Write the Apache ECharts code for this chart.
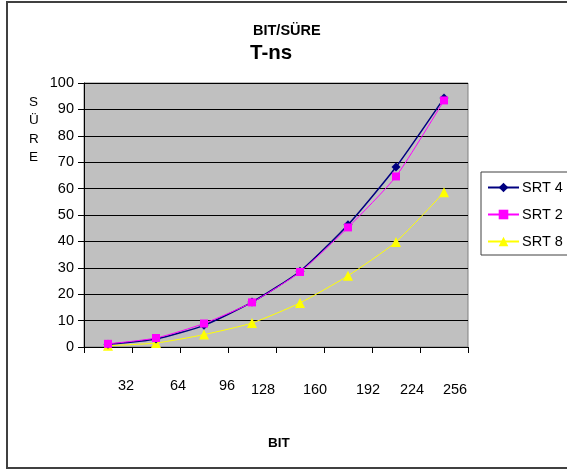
<!DOCTYPE html>
<html>
<head>
<meta charset="utf-8">
<script src="https://cdn.jsdelivr.net/npm/echarts@6/dist/echarts.min.js"></script>
<style>
  html, body { margin: 0; padding: 0; background: #fff; }
  #chart { width: 567px; height: 473px; }
</style>
</head>
<body>
<div id="chart"></div>
<script>
var bits = ['32', '64', '96', '128', '160', '192', '224', '256'];
var srt4 = [1, 3, 8.2, 17, 28.7, 46.3, 68.2, 94.3];
var srt2 = [1.2, 3.4, 8.9, 16.9, 28.4, 45.3, 64.6, 93.4];
var srt8 = [0.5, 1.5, 4.7, 9.1, 16.7, 27, 39.8, 58.6];

// excel put the bit labels a bit off the category centres
var labelShiftX = [18, 22, 23, 11, 15, 20, 16, 11];
var labelShiftY = [0, 0, 0, 4, 4, 4, 4, 4];

var chart = echarts.init(document.getElementById('chart'));
var font = 'Liberation Sans';

var rich = {};
labelShiftX.forEach(function (dx, i) {
    rich['p' + i] = {
        fontFamily: font,
        fontSize: 14.5,
        color: '#000',
        padding: [labelShiftY[i], 0, 0, dx * 2]
    };
});

option = {
    animation: false,
    backgroundColor: '#fff',
    textStyle: { fontFamily: font },
    graphic: [
        {
            type: 'rect',
            shape: { x: 7, y: 2, width: 570, height: 466 },
            style: { fill: null, stroke: '#404040', lineWidth: 2 },
            z: 100
        },
        {
            type: 'text',
            top: 23,
            left: 253,
            style: { text: 'BIT/SÜRE', font: 'bold 14.5px Liberation Sans', fill: '#000' }
        },
        {
            type: 'text',
            top: 43,
            left: 250,
            style: { text: 'T-ns', font: 'bold 20.5px Liberation Sans', fill: '#000' }
        },
        {
            type: 'text',
            top: 93,
            left: 29,
            style: {
                text: 'S\nÜ\nR\nE',
                font: '13.5px Liberation Sans',
                lineHeight: 18.5,
                align: 'center',
                fill: '#000'
            }
        },
        {
            type: 'text',
            top: 436,
            left: 268,
            style: { text: 'BIT', font: 'bold 13.5px Liberation Sans', fill: '#000' }
        }
    ],
    legend: {
        data: ['SRT 4', 'SRT 2', 'SRT 8'],
        orient: 'vertical',
        left: 481,
        top: 172,
        width: 120,
        padding: [8, 40, 6, 6],
        itemWidth: 31,
        itemHeight: 12,
        itemGap: 12,
        borderColor: '#404040',
        borderWidth: 1,
        backgroundColor: '#fff',
        textStyle: { fontFamily: font, fontSize: 14.5, color: '#000', padding: [0, 0, 0, -2] }
    },
    grid: {
        left: 84,
        right: 99,
        top: 83,
        bottom: 126,
        show: true,
        backgroundColor: '#c0c0c0',
        borderColor: '#808080',
        borderWidth: 1
    },
    xAxis: {
        type: 'category',
        data: bits,
        boundaryGap: true,
        axisLine: { lineStyle: { color: '#000', width: 1 } },
        axisTick: { show: true, length: 6, lineStyle: { color: '#000' } },
        axisLabel: {
            margin: 31,
            interval: 0,
            formatter: function (v, i) {
                return '{p' + i + '|' + v + '}';
            },
            rich: rich
        }
    },
    yAxis: {
        type: 'value',
        min: 0,
        max: 100,
        interval: 10,
        axisLine: { show: true, lineStyle: { color: '#000' } },
        axisTick: { show: true, length: 6, lineStyle: { color: '#000' } },
        axisLabel: { fontFamily: font, fontSize: 14.5, color: '#000', margin: 10 },
        splitLine: { lineStyle: { color: '#000', width: 1 } }
    },
    series: [
        {
            name: 'SRT 4',
            type: 'line',
            data: srt4,
            smooth: 0.2,
            symbol: 'diamond',
            symbolSize: 9,
            itemStyle: { color: '#000080' },
            lineStyle: { color: '#000080', width: 1.5 },
            z: 3
        },
        {
            name: 'SRT 2',
            type: 'line',
            data: srt2,
            smooth: 0.2,
            symbol: 'rect',
            symbolSize: 8,
            itemStyle: { color: '#ff00ff' },
            lineStyle: { color: '#ff00ff', width: 1 },
            z: 4
        },
        {
            name: 'SRT 8',
            type: 'line',
            data: srt8,
            smooth: 0.2,
            symbol: 'triangle',
            symbolSize: 10,
            itemStyle: { color: '#ffff00' },
            lineStyle: { color: '#ffff00', width: 1 },
            z: 2
        }
    ]
};
chart.setOption(option);
</script>
</body>
</html>
